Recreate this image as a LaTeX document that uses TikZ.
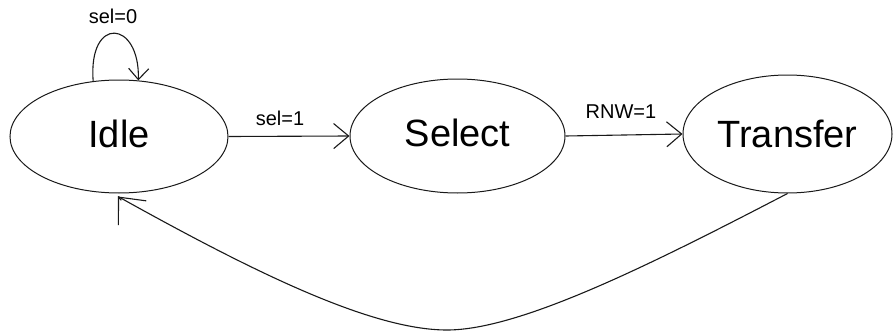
\documentclass[tikz,border=0pt]{standalone}
\usepackage{fontspec}
\setmainfont{Liberation Sans}
\usetikzlibrary{arrows.meta,shapes.geometric,calc}
\begin{document}
\begin{tikzpicture}[x=1pt,y=-1pt,
  state/.style={draw=black!90, ellipse, line width=1pt, inner sep=0pt,
    font=\fontsize{38}{40}\selectfont, text height=27pt, text depth=6pt},
  lbl/.style={font=\fontsize{20}{22}\selectfont, inner sep=0pt},
  wire/.style={draw=black!90, line width=1.1pt},
  conn/.style={wire, -{Straight Barb[length=15pt,width=25pt,line width=1.1pt]}},
  loopconn/.style={wire, -{Straight Barb[length=11pt,width=20pt,line width=1.1pt]}},
  bigtip/.style={wire, -{Straight Barb[length=21pt,width=37pt,line width=1.1pt]}}]
\useasboundingbox (0,0) rectangle (894,332);

\node[state, minimum width=218pt, minimum height=113pt] (idle) at (119,136.5) {Idle};
\node[state, minimum width=215pt, minimum height=114pt] (select) at (457.5,136) {Select};
\node[state, minimum width=209pt, minimum height=118pt, text depth=0pt] (transfer) at (787.5,134) {Transfer};

% self loop
\draw[loopconn] (idle.115) .. controls (88,15) and (140,20) .. (idle.71);
\node[lbl] (l0) at (113,16.5) {sel=0};

% forward transitions
\draw[conn] (idle.east) -- (select.west);
\node[lbl] (l1) at (280,118.5) {sel=1};
\draw[conn] (select.east) -- (transfer.west);
\node[lbl] (l2) at (621,111.5) {RNW=1};

% return transition
\coordinate (low) at (447,330);
\coordinate (ret) at ($(idle.south)+(-1,3)$);
\coordinate (retfrom) at ($(ret)+(3.3,3.8)$);
\draw[wire] (transfer.south) .. controls (650,265) and (520,330) .. (low)
  .. controls (370,330) and (250,270) .. (ret);
\draw[bigtip] (retfrom) -- (ret);
\end{tikzpicture}
\end{document}
